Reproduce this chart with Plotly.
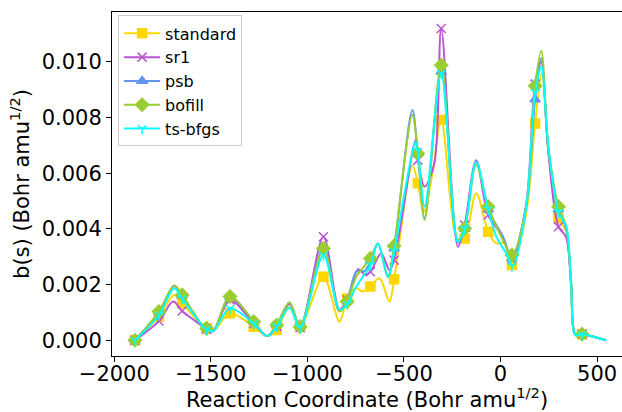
import plotly.graph_objects as go

# ---- data (y values in units of 1e-3) ----
marker_x = [-1893, -1769, -1649, -1522, -1401, -1278, -1159, -1038, -917, -794,
            -674, -551, -428, -307, -186, -64, 59, 179, 300, 422]

std_x = [-1893, -1769, -1690, -1649, -1540, -1522, -1488, -1401, -1278, -1208, -1159, -1093, -1038,
         -917, -834, -794, -747, -713, -674, -627, -575, -551, -457, -428, -398, -350, -307,
         -221, -186, -126, -64, -22, 20, 59, 133, 179, 215, 247, 300, 340, 365, 388, 422, 547]
std_y = [0, 0.85, 1.63, 1.33, 0.5, 0.43, 0.33, 0.97, 0.49, 0.15, 0.37, 1.2, 0.5,
         2.28, 0.67, 1.5, 1.87, 1.75, 1.93, 2.23, 1.39, 2.19, 6.29, 5.64, 4.6, 6.1, 7.95,
         3.6, 3.66, 5.28, 3.9, 3.48, 3.5, 2.7, 4.57, 7.79, 9.6, 6.8, 4.38, 3.9, 2.1, 0.19, 0.22, 0.0]
std_my = [0, 0.85, 1.33, 0.43, 0.97, 0.49, 0.37, 0.5, 2.28, 1.5,
          1.93, 2.19, 5.64, 7.91, 3.66, 3.9, 2.7, 7.79, 4.38, 0.22]

sr1_x = [-1893, -1769, -1695, -1649, -1540, -1522, -1488, -1401, -1278, -1208, -1159, -1093, -1038,
         -917, -834, -794, -738, -700, -674, -618, -575, -551, -440, -428, -393, -343, -307,
         -221, -186, -126, -64, 12, 59, 133, 179, 211, 247, 300, 340, 365, 388, 422, 547]
sr1_y = [0, 0.69, 1.39, 1.05, 0.49, 0.4, 0.33, 1.45, 0.6, 0.15, 0.5, 1.3, 0.45,
         3.72, 1.1, 1.45, 2.55, 2.35, 2.46, 3.12, 2.52, 2.88, 7.19, 6.47, 5.52, 6.35, 11.2,
         3.36, 4.14, 6.47, 4.5, 3.72, 2.9, 4.9, 9.2, 10.0, 6.8, 4.08, 3.7, 2.0, 0.19, 0.22, 0.0]
sr1_my = [0, 0.69, 1.05, 0.4, 1.45, 0.6, 0.5, 0.45, 3.72, 1.45,
          2.46, 2.88, 6.47, 11.2, 4.14, 4.5, 2.9, 9.2, 4.08, 0.22]

psb_x = [-1893, -1769, -1690, -1649, -1540, -1522, -1488, -1401, -1278, -1208, -1159, -1093, -1038,
         -917, -834, -794, -747, -700, -674, -635, -583, -551, -457, -428, -393, -307,
         -221, -186, -126, -64, 12, 59, 133, 179, 211, 247, 300, 340, 365, 388, 422, 547]
psb_y = [0, 1.0, 1.95, 1.6, 0.5, 0.43, 0.33, 1.55, 0.67, 0.15, 0.55, 1.36, 0.49,
         3.35, 1.05, 1.39, 2.46, 2.5, 2.85, 3.48, 2.28, 3.3, 8.27, 6.7, 4.38, 9.7,
         3.5, 4.0, 6.41, 4.7, 3.72, 2.94, 4.8, 8.65, 10.13, 6.9, 4.7, 4.0, 2.1, 0.19, 0.22, 0.0]
psb_my = [0, 1.0, 1.6, 0.43, 1.55, 0.67, 0.55, 0.49, 3.35, 1.39,
          2.85, 3.3, 6.7, 9.64, 4.0, 4.7, 2.94, 8.65, 4.7, 0.22]

bof_x = [-1893, -1769, -1690, -1649, -1540, -1522, -1488, -1401, -1278, -1208, -1159, -1093, -1038,
         -917, -834, -794, -747, -674, -635, -583, -551, -457, -428, -393, -307,
         -221, -186, -126, -64, 12, 59, 133, 179, 211, 247, 300, 340, 365, 388, 422, 547]
bof_y = [0, 1.03, 1.98, 1.63, 0.5, 0.43, 0.33, 1.57, 0.67, 0.15, 0.55, 1.36, 0.49,
         3.3, 1.03, 1.39, 2.28, 2.94, 3.48, 2.28, 3.39, 8.09, 6.71, 4.32, 9.88,
         3.6, 4.02, 6.3, 4.8, 3.6, 3.06, 4.8, 9.13, 10.4, 7.0, 4.8, 4.1, 2.2, 0.19, 0.22, 0.0]
bof_my = [0, 1.03, 1.63, 0.43, 1.57, 0.67, 0.55, 0.49, 3.3, 1.39,
          2.94, 3.39, 6.71, 9.88, 4.02, 4.8, 3.06, 9.13, 4.8, 0.22]

tsb_x = [-1893, -1769, -1690, -1649, -1540, -1522, -1488, -1401, -1278, -1208, -1159, -1093, -1038,
         -917, -834, -794, -747, -674, -635, -583, -551, -440, -428, -393, -307,
         -221, -186, -126, -64, -22, 30, 64, 133, 179, 211, 247, 300, 340, 365, 388, 422, 547]
tsb_y = [0, 0.9, 1.87, 1.5, 0.5, 0.4, 0.33, 1.15, 0.6, 0.15, 0.5, 1.17, 0.45,
         3.06, 1.1, 1.3, 1.93, 2.7, 3.48, 2.28, 3.2, 7.13, 6.8, 4.8, 9.59,
         3.54, 4.0, 6.41, 4.7, 3.72, 3.12, 2.67, 4.8, 8.9, 9.82, 7.0, 4.6, 4.1, 2.1, 0.19, 0.22, 0.0]
tsb_my = [0, 0.9, 1.5, 0.4, 1.15, 0.6, 0.5, 0.45, 3.06, 1.3,
          2.7, 3.2, 6.8, 9.59, 4.0, 4.7, 2.67, 8.9, 4.6, 0.22]

names = ["standard", "sr1", "psb", "bofill", "ts-bfgs"]
colors = ["#FFD700", "#BA55D3", "#6495ED", "#9ACD32", "#00FFFF"]
symbols = ["square", "x-thin", "triangle-up", "diamond", "y-down"]
sizes = [9, 9, 9, 10, 7]
series = [(std_x, std_y, std_my), (sr1_x, sr1_y, sr1_my), (psb_x, psb_y, psb_my),
          (bof_x, bof_y, bof_my), (tsb_x, tsb_y, tsb_my)]

scale = 1e-3
fig = go.Figure()
for (xs, ys, mys), name, col, sym, sz in zip(series, names, colors, symbols, sizes):
    fig.add_trace(go.Scatter(x=xs, y=[v * scale for v in ys], mode="lines",
                             line=dict(color=col, width=2, shape="spline", smoothing=0.9),
                             showlegend=False, hoverinfo="skip"))
    fig.add_trace(go.Scatter(x=marker_x, y=[v * scale for v in mys], mode="markers",
                             marker=dict(symbol=sym, size=sz, color=col,
                                         line=dict(color=col, width=1.5)),
                             showlegend=False, hoverinfo="skip"))
# legend entries
for name, col, sym, sz in zip(names, colors, symbols, sizes):
    fig.add_trace(go.Scatter(x=[None], y=[None], mode="lines+markers", name=name,
                             line=dict(color=col, width=2),
                             marker=dict(symbol=sym, size=sz, color=col,
                                         line=dict(color=col, width=1.5))))

font = "DejaVu Sans, sans-serif"
fig.update_layout(
    width=622, height=412,
    margin=dict(l=112, r=0, t=12, b=56),
    paper_bgcolor="white", plot_bgcolor="white",
    font=dict(family=font, size=21, color="black"),
    legend=dict(x=0.012, y=0.99, xanchor="left", yanchor="top",
                bgcolor="rgba(255,255,255,0.8)", bordercolor="#cccccc", borderwidth=1,
                itemwidth=36,
                font=dict(size=16, family=font)),
)
fig.update_xaxes(range=[-2012, 629], tickvals=[-2000, -1500, -1000, -500, 0, 500],
                 ticks="outside", ticklen=5, tickwidth=1, tickcolor="black",
                 ticklabelstandoff=-6,
                 showline=True, linecolor="black", linewidth=1, mirror=True,
                 showgrid=False, zeroline=False,
                 title=dict(text="Reaction Coordinate (Bohr amu<sup>1/2</sup>)", standoff=2,
                            font=dict(size=21)))
fig.update_yaxes(range=[-0.000564, 0.01179], tickvals=[0, 0.002, 0.004, 0.006, 0.008, 0.010],
                 tickformat=".3f",
                 ticks="outside", ticklen=5, tickwidth=1, tickcolor="black",
                 showline=True, linecolor="black", linewidth=1, mirror=False,
                 showgrid=False, zeroline=False,
                 title=dict(text="b(s) (Bohr amu<sup>1/2</sup>)", standoff=6,
                            font=dict(size=21)))
fig.write_html("out.html")
